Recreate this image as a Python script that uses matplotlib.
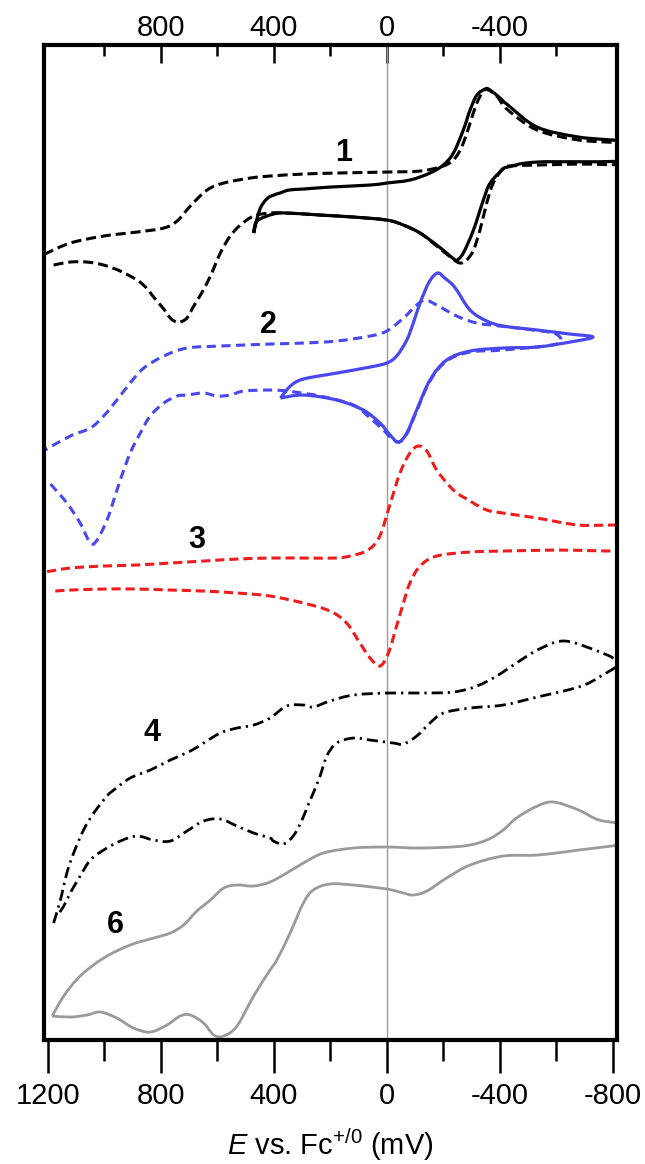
import matplotlib
matplotlib.use("Agg")
import matplotlib.pyplot as plt
from matplotlib.path import Path
from matplotlib.patches import PathPatch
import numpy as np

plt.rcParams['font.family'] = ['Liberation Sans', 'DejaVu Sans']
plt.rcParams['mathtext.fontset'] = 'custom'
plt.rcParams['mathtext.rm'] = 'Liberation Sans'
plt.rcParams['mathtext.it'] = 'Liberation Sans:italic'

# potentials in mV vs Fc+/0, currents offset per trace (arb. units)
# 1, wide window (dashed)
e1_wide = [1179, 1120, 1061, 1002, 943, 884, 850, 825, 789, 766, 745, 731, 707, 683, 655,
           624, 589, 554, 518, 471, 413, 354, 236, 118, 0, -59, -118, -177, -230, -259,
           -283, -307, -330, -354, -377, -412, -429, -532, -679, -860,
           -860, -679, -532, -429, -389, -360, -342, -319, -295, -271, -242, -200, -118,
           0, 177, 295, 413, 483, 577, 636, 695, 742, 789, 884, 1002, 1120, 1210]
i1_wide = [775, 778, 778, 775, 769, 760, 752, 743, 731, 722, 718, 718, 722, 734, 747,
           764, 787, 804, 815, 824, 827, 827, 825, 823, 820, 815, 807, 794, 782, 777,
           780, 790, 810, 837, 857, 872, 874, 875, 876, 877,
           895, 900, 910, 930, 944, 950, 949, 937, 917, 897, 882, 874, 869,
           868, 867, 866, 864, 862, 857, 850, 834, 819, 812, 808, 804, 797, 786]

# 1, narrow window (solid)
e1_narrow = [471, 450, 425, 400, 378, 346, 295, 199, 59, 0, -82, -153, -200, -236, -271,
             -295, -319, -348, -360, -389, -412, -429, -532, -679, -860,
             -860, -532, -429, -412, -366, -342, -307, -271, -250, -242, -212, -177, -118,
             -59, 0, 118, 236, 354, 401, 459, 471]
i1_narrow = [807, 830, 841, 845, 847, 850, 851, 853, 855, 857, 860, 867, 875, 887, 910,
             930, 945, 951, 951, 945, 939, 935, 913, 903, 897,
             880, 878, 873, 871, 857, 840, 810, 787, 780, 780, 787, 795, 807,
             815, 820, 823, 825, 827, 826, 819, 807]

# 2, wide window (dashed)
e2_wide = [1190, 1132, 1085, 1049, 1025, 990, 966, 943, 908, 872, 837, 789, 742, 707, 648,
           601, 554, 506, 413, 354, 236, 118, 59, 12, -20, -45, -71, -106, -153, -212,
           -295, -412, -600, -600, -518, -401, -319, -248, -177, -136, -106, -59,
           0, 59, 177, 295, 413, 589, 707, 789, 860, 908, 955, 1002, 1049, 1120, 1210]
i2_wide = [556, 537, 517, 497, 500, 520, 540, 560, 587, 607, 624, 637, 644, 645, 647,
           644, 645, 649, 650, 649, 644, 635, 622, 610, 601, 598, 606, 629, 659, 679,
           688, 690, 696, 706, 710, 714, 717, 724, 735, 740, 735, 722,
           709, 704, 699, 697, 696, 694, 692, 684, 672, 657, 640, 624, 612, 604, 590]

# 2, narrow window (solid)
e2_narrow = [376, 341, 295, 177, 59, 0, -35, -71, -94, -118, -150, -180, -205, -240, -295,
             -354, -412, -533, -649, -730, -649, -532, -412, -295, -212, -153, -106, -71,
             -41, -12, 24, 83, 177, 295, 376]
i2_narrow = [642, 654, 661, 667, 673, 677, 684, 700, 717, 737, 758, 767, 762, 753, 730,
             719, 714, 710, 706, 703, 698, 693, 692, 689, 680, 660, 630, 607,
             598, 605, 617, 630, 640, 645, 642]

# 3 (dashed)
e3 = [1173, 1120, 1002, 884, 766, 648, 530, 413, 295, 201, 142, 95, 59, 24, -6, -35, -59,
      -82, -118, -177, -295, -412, -600, -860,
      -860, -679, -532, -412, -354, -295, -236, -177, -142, -112, -82, -47, -12, 20, 45,
      80, 130, 177, 295, 413, 530, 648, 766, 884, 1002, 1120, 1210]
i3 = [449, 450, 451, 451, 450, 449, 447, 444, 437, 429, 417, 397, 382, 374, 387, 414, 437,
      457, 474, 484, 488, 489, 490, 491,
      513, 515, 522, 527, 530, 539, 550, 570, 589, 594, 587, 567, 536, 507, 495,
      488, 484, 482, 482, 482, 481, 479, 477, 475, 474, 472, 468]

# 4 (dash-dot)
e4 = [1179, 1155, 1132, 1108, 1073, 1037, 990, 966, 908, 837, 766, 695, 648, 589, 530, 471,
      413, 354, 295, 260, 201, 118, 0, -118, -236, -319, -389, -459, -533, -620, -708, -818,
      -752, -679, -533, -412, -295, -200, -153, -106, -59, -24, 59, 118, 177, 212, 236, 260,
      277, 300, 331, 366, 401, 413, 471, 530, 589, 648, 707, 766, 825, 884, 943, 1002, 1049,
      1085, 1120, 1143, 1167]
i4 = [117, 140, 167, 187, 210, 227, 244, 250, 262, 270, 280, 289, 297, 307, 312, 315,
      322, 334, 335, 333, 339, 345, 347, 347, 348, 354, 364, 377, 390, 399, 393, 378,
      363, 353, 343, 335, 332, 327, 317, 304, 296, 297, 300, 302, 297, 284, 264, 247,
      236, 220, 204, 196, 199, 202, 207, 214, 221, 219, 209, 199, 200, 204, 199, 190, 180,
      164, 147, 134, 124]

# 6 (solid gray)
e6 = [1184, 1143, 1085, 1002, 908, 825, 766, 719, 672, 624, 577, 530, 471, 413, 354, 295,
      224, 118, 0, -118, -271, -354, -412, -459, -533, -591, -679, -752, -860,
      -860, -679, -533, -412, -295, -212, -142, -94, -59, 0, 118, 201, 260, 295, 342, 389,
      413, 471, 530, 577, 612, 648, 695, 731, 778, 837, 896, 955, 1014, 1061, 1120, 1184]
i6 = [24, 44, 64, 82, 95, 102, 107, 115, 129, 140, 152, 155, 154, 158, 167, 177,
      187, 192, 193, 192, 194, 200, 210, 222, 234, 238, 230, 220, 214,
      198, 190, 185, 184, 175, 162, 149, 145, 147, 151, 155, 156, 150, 137, 107, 80,
      70, 44, 14, 4, 5, 17, 25, 24, 15, 8, 12, 22, 28, 25, 23, 24]

trace_names = ['1', '2', '3', '4', '6']
name_e = [153, 419, 674, 831, 961]
name_i = [887, 715, 500, 307, 115]

major_ticks = [1200, 800, 400, 0, -400, -800]
minor_ticks = [1000, 600, 200, -200, -600]
top_ticks = [800, 400, 0, -400]

blue = '#4848ee'
red = '#ee1c1c'
gray = '#9a9a9a'


def smooth_path(x, y):
    # cubic Bezier segments through the measured points (Catmull-Rom tangents)
    p = np.column_stack([x, y]).astype(float)
    pp = np.vstack([p[0], p, p[-1]])
    verts = [p[0]]
    codes = [Path.MOVETO]
    for k in range(len(p) - 1):
        p0, p1, p2, p3 = pp[k], pp[k + 1], pp[k + 2], pp[k + 3]
        verts += [p1 + (p2 - p0) / 6, p2 - (p3 - p1) / 6, p2]
        codes += [Path.CURVE4] * 3
    return Path(verts, codes)


def trace(ax, x, y, color, lw, ls='-'):
    ax.add_patch(PathPatch(smooth_path(x, y), fill=False, edgecolor=color, lw=lw,
                           linestyle=ls, capstyle='butt', joinstyle='round'))


fig = plt.figure(figsize=(6.45, 11.64), dpi=100)
ax = fig.add_axes([0.0682, 0.1065, 0.8884, 0.8548])

ax.axvline(0, color='#9a9a9a', lw=1.0, zorder=0.5)

trace(ax, e1_wide, i1_wide, 'black', 2.2, (0, (3.3, 1.6)))
trace(ax, e1_narrow, i1_narrow, 'black', 2.3)
trace(ax, e2_wide, i2_wide, blue, 2.2, (0, (3.0, 1.8)))
trace(ax, e2_narrow, i2_narrow, blue, 2.3)
trace(ax, e3, i3, red, 2.2, (0, (3.0, 1.6)))
trace(ax, e4, i4, 'black', 2.0, (0, (4.0, 1.8, 0.8, 1.8)))
trace(ax, e6, i6, gray, 2.0)

for name, xe, yi in zip(trace_names, name_e, name_i):
    ax.text(xe, yi, name, fontsize=22, fontweight='bold', ha='center', va='center')

ax.set_xlim(1213, -815)
ax.set_ylim(0, 995)

for s in ax.spines.values():
    s.set_linewidth(3.0)

ax.set_yticks([])
ax.set_xticks(major_ticks)
ax.set_xticks(minor_ticks, minor=True)
ax.set_xticklabels([str(t) for t in major_ticks])
ax.tick_params(axis='x', which='major', direction='out', length=24, width=1.8,
               labelsize=21, pad=6)
ax.tick_params(axis='x', which='minor', direction='out', length=15, width=1.8)
ax.set_xlabel('$E$ vs. Fc$^{+/0}$ (mV)', fontsize=21, labelpad=12)

top = ax.secondary_xaxis('top')
top.set_xticks(top_ticks)
top.set_xticks(minor_ticks, minor=True)
top.set_xticklabels([str(t) for t in top_ticks])
top.tick_params(axis='x', which='major', direction='in', length=13, width=1.8,
                labelsize=21, pad=2)
top.tick_params(axis='x', which='minor', direction='in', length=8, width=1.8)
top.spines['top'].set_visible(False)

fig.savefig('out.png', dpi=100)
